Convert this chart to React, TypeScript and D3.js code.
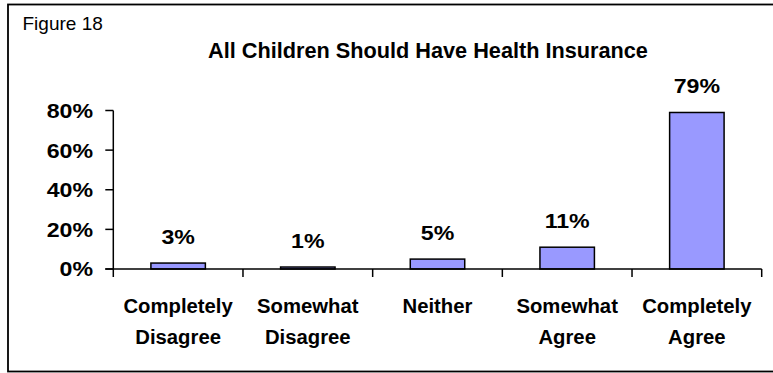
import React from "react";
import * as d3 from "d3";

const categories: string[][] = [
  ["Completely", "Disagree"],
  ["Somewhat", "Disagree"],
  ["Neither"],
  ["Somewhat", "Agree"],
  ["Completely", "Agree"],
];
const values: number[] = [3, 1, 5, 11, 79];
const yTicks: number[] = [0, 20, 40, 60, 80];

const W = 773;
const H = 373;
const plot = { left: 113.3, right: 761.7, top: 110.5, bottom: 269 };
const font = "'Liberation Sans', Arial, sans-serif";
// numbers are set in a slightly widened face
const WIDEN = 1.13;

export default function App() {
  const keys = categories.map((c) => c.join(" "));
  const x = d3.scaleBand<string>().domain(keys).range([plot.left, plot.right]);
  const y = d3.scaleLinear().domain([0, 80]).range([plot.bottom, plot.top]);
  const bw = x.bandwidth() * 0.42;
  const bounds = [...keys.map((k) => x(k) as number), plot.right];

  return (
    <svg
      width={W}
      height={H}
      style={{ position: "absolute", left: 0, top: 0, background: "#fff" }}
      fontFamily={font}
    >
      <rect x={8} y={4.5} width={780} height={367} fill="#fff" stroke="#000" strokeWidth={1.8} />
      <text x={22.5} y={30} fontSize={19}>Figure 18</text>
      <text x={428} y={58} fontSize={21.7} fontWeight="bold" textAnchor="middle">
        All Children Should Have Health Insurance
      </text>

      {/* value axis */}
      <line x1={plot.left} x2={plot.left} y1={y(80)} y2={plot.bottom} stroke="#000" strokeWidth={1.5} />
      {yTicks.map((t) => (
        <g key={t}>
          <line x1={plot.left - 8} x2={plot.left} y1={y(t)} y2={y(t)} stroke="#000" strokeWidth={1.5} />
          <g transform={`translate(93,${y(t)}) scale(${WIDEN},1)`}>
            <text dy="0.36em" fontSize={20.5} fontWeight="bold" textAnchor="end">
              {t}%
            </text>
          </g>
        </g>
      ))}

      {/* bars */}
      {values.map((v, i) => {
        const cx = (x(keys[i]) as number) + x.bandwidth() / 2;
        return (
          <g key={keys[i]}>
            <rect
              x={cx - bw / 2}
              y={y(v)}
              width={bw}
              height={plot.bottom - y(v)}
              fill="#9999FF"
              stroke="#000"
              strokeWidth={1.5}
            />
            <g transform={`translate(${cx},${y(v) - 19}) scale(${WIDEN},1)`}>
              <text fontSize={20.5} fontWeight="bold" textAnchor="middle">
                {v}%
              </text>
            </g>
          </g>
        );
      })}

      {/* category axis */}
      <line x1={plot.left - 8} x2={plot.right} y1={plot.bottom} y2={plot.bottom} stroke="#000" strokeWidth={1.5} />
      {bounds.map((b, i) => (
        <line key={i} x1={b} x2={b} y1={plot.bottom} y2={plot.bottom + 8} stroke="#000" strokeWidth={1.5} />
      ))}
      {categories.map((lines, i) => {
        const cx = (x(keys[i]) as number) + x.bandwidth() / 2;
        return (
          <text key={keys[i]} x={cx} y={313} fontSize={20.3} fontWeight="bold" textAnchor="middle">
            {lines.map((l, j) => (
              <tspan key={j} x={cx} dy={j === 0 ? 0 : 31}>
                {l}
              </tspan>
            ))}
          </text>
        );
      })}
    </svg>
  );
}
